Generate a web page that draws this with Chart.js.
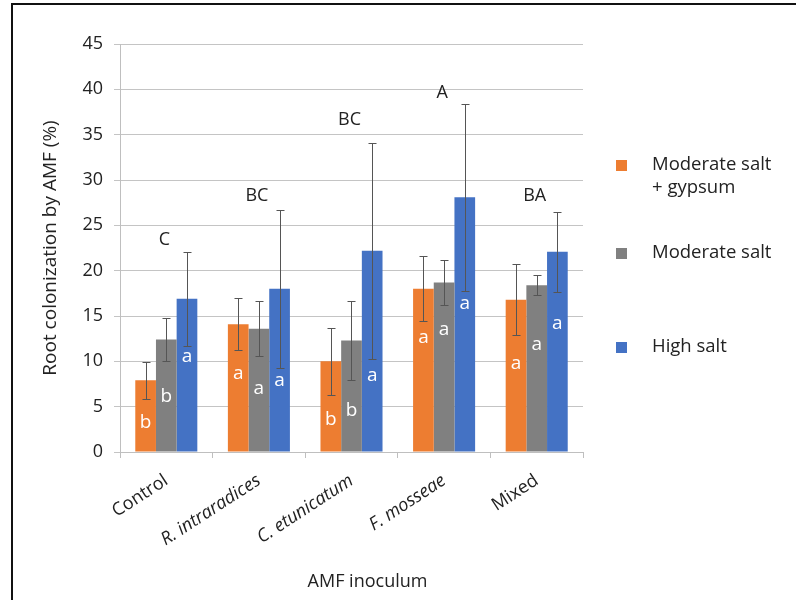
<!DOCTYPE html>
<html>
<head>
<meta charset="utf-8">
<script src="https://cdn.jsdelivr.net/npm/chart.js@4.4.1/dist/chart.umd.min.js"></script>
<style>
  html, body { margin: 0; padding: 0; background: #fff; }
  #wrap { position: relative; width: 796px; height: 600px; overflow: hidden; }
  #frame { position: absolute; left: 11px; top: 3px; width: 800px; height: 620px;
           border-left: 2px solid #111; border-top: 2px solid #111; box-sizing: border-box; }
  canvas { position: absolute; left: 0; top: 0; }
</style>
</head>
<body>
<div id="wrap">
  <div id="frame"></div>
  <canvas id="c" width="796" height="600"></canvas>
</div>
<script>
// ---- data ----
const categories = ['Control', 'R. intraradices', 'C. etunicatum', 'F. mosseae', 'Mixed'];
const seriesNames = ['Moderate salt\n+ gypsum', 'Moderate salt', 'High salt'];
const gypsumValues   = [7.9, 14.1, 10.0, 18.0, 16.8];
const moderateValues = [12.4, 13.6, 12.3, 18.7, 18.4];
const highValues     = [16.9, 18.0, 22.2, 28.1, 22.1];
const gypsumErr   = [2.0, 2.9, 3.7, 3.6, 3.9];
const moderateErr = [2.4, 3.0, 4.4, 2.5, 1.1];
const highErr     = [5.2, 8.7, 11.9, 10.3, 4.4];
const gypsumLetters   = ['b', 'a', 'b', 'a', 'a'];
const moderateLetters = ['b', 'a', 'b', 'a', 'a'];
const highLetters     = ['a', 'a', 'a', 'a', 'a'];
const groupLetters = ['C', 'BC', 'BC', 'A', 'BA'];
const yTicks = [0, 5, 10, 15, 20, 25, 30, 35, 40, 45];
const xTitle = 'AMF inoculum';
const yTitle = 'Root colonization by AMF (%)';

// annotation anchor heights (data units)
const letterAnchors = [
  [3.2, 8.6, 3.6, 12.6, 9.8],
  [6.1, 7.0, 4.6, 13.5, 11.8],
  [10.5, 7.9, 8.4, 16.4, 14.2]
];
const groupLetterAnchors = [23.4, 28.3, 36.6, 39.6, 28.3];

const colors = ['#ED7D31', '#808080', '#4472C4'];
const FONT = "'Open Sans', 'Noto Sans', sans-serif";
const TEXT = '#222222';

const errs = [gypsumErr, moderateErr, highErr];
const letters = [gypsumLetters, moderateLetters, highLetters];

const annotPlugin = {
  id: 'annot',
  afterDatasetsDraw(chart) {
    const ctx = chart.ctx;
    const y = chart.scales.y;
    ctx.save();
    // error bars
    chart.data.datasets.forEach((ds, di) => {
      const meta = chart.getDatasetMeta(di);
      meta.data.forEach((bar, i) => {
        const v = ds.data[i], e = errs[di][i];
        const top = Math.round(y.getPixelForValue(v + e)) + 0.5;
        const bot = Math.round(y.getPixelForValue(v - e)) + 0.5;
        const x = Math.round(bar.x) + 0.5;
        ctx.strokeStyle = '#555555';
        ctx.lineWidth = 1;
        ctx.beginPath();
        ctx.moveTo(x, top); ctx.lineTo(x, bot);
        ctx.moveTo(x - 4, top); ctx.lineTo(x + 4, top);
        ctx.moveTo(x - 4, bot); ctx.lineTo(x + 4, bot);
        ctx.stroke();
      });
    });
    // in-bar letters
    ctx.fillStyle = '#ffffff';
    ctx.font = "19px " + FONT;
    ctx.textAlign = 'center';
    ctx.textBaseline = 'middle';
    chart.data.datasets.forEach((ds, di) => {
      const meta = chart.getDatasetMeta(di);
      meta.data.forEach((bar, i) => {
        ctx.fillText(letters[di][i], bar.x, y.getPixelForValue(letterAnchors[di][i]));
      });
    });
    // group letters
    ctx.fillStyle = TEXT;
    ctx.font = "18px " + FONT;
    const xs = chart.scales.x;
    groupLetters.forEach((t, i) => {
      ctx.fillText(t, xs.getPixelForValue(i) - 2, y.getPixelForValue(groupLetterAnchors[i]));
    });
    const ca = chart.chartArea;
    // x axis title
    ctx.font = "18px " + FONT;
    ctx.fillText(xTitle, (ca.left + ca.right) / 2 + 16, 582);
    // legend
    const lx = ca.right + 33, tx = ca.right + 69;
    const rows = [121, 209, 303];
    ctx.textAlign = 'left';
    ctx.font = "18.5px " + FONT;
    seriesNames.forEach((name, k) => {
      const cy = ca.top + rows[k];
      ctx.fillStyle = colors[k];
      ctx.fillRect(lx, cy - 5, 11, 11);
      ctx.fillStyle = TEXT;
      name.split('\n').forEach((line, j) => {
        ctx.fillText(line, tx, cy + j * 23);
      });
    });
    ctx.restore();
  }
};

new Chart(document.getElementById('c'), {
  type: 'bar',
  data: {
    labels: categories,
    datasets: [
      { label: seriesNames[0], data: gypsumValues, backgroundColor: colors[0] },
      { label: seriesNames[1], data: moderateValues, backgroundColor: colors[1] },
      { label: seriesNames[2], data: highValues, backgroundColor: colors[2] }
    ]
  },
  options: {
    responsive: false,
    animation: false,
    devicePixelRatio: 1,
    layout: { padding: { left: 0, right: 213, top: 44, bottom: 0 } },
    datasets: { bar: { categoryPercentage: 0.67, barPercentage: 1.0 } },
    plugins: { legend: { display: false }, tooltip: { enabled: false } },
    scales: {
      x: {
        grid: { drawOnChartArea: false, drawTicks: true, tickLength: 6, color: '#bfbfbf', offset: true },
        border: { color: '#bfbfbf', width: 1 },
        ticks: {
          color: TEXT, minRotation: 33, maxRotation: 33, padding: 12,
          font: (c) => ({ family: FONT, size: 18, style: (c.index >= 1 && c.index <= 3) ? 'italic' : 'normal' })
        },
        title: { display: false },
        afterFit: (s) => { s.height = 148; }
      },
      y: {
        min: 0, max: 45,
        afterBuildTicks: (s) => { s.ticks = yTicks.map(v => ({ value: v })); },
        grid: { color: '#c4c4c4', tickLength: 6, drawTicks: true },
        border: { color: '#bfbfbf', width: 1 },
        ticks: { color: TEXT, padding: 11, font: { family: FONT, size: 18 } },
        title: { display: true, text: yTitle, color: TEXT, font: { family: FONT, size: 19 }, padding: { top: 39, bottom: 0 } },
        afterFit: (s) => { s.width = 120; }
      }
    }
  },
  plugins: [annotPlugin]
});
</script>
</body>
</html>
